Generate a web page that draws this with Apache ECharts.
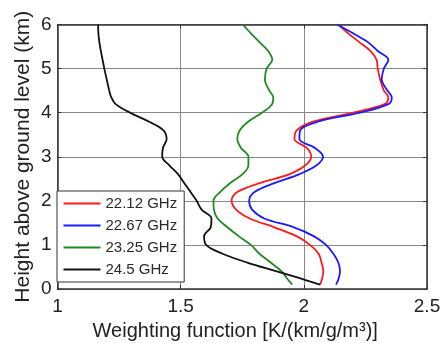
<!DOCTYPE html>
<html>
<head>
<meta charset="utf-8">
<script src="https://cdn.jsdelivr.net/npm/echarts@6/dist/echarts.min.js"></script>
<style>
html,body{margin:0;padding:0;background:#fff;}
#chart{width:443px;height:343px;}
</style>
</head>
<body>
<div id="chart"></div>
<script>
const heights = [0.1, 0.25, 0.4, 0.6, 0.8, 1.0, 1.2, 1.4, 1.6, 1.8, 2.0, 2.2, 2.4, 2.6, 2.8, 3.0, 3.2, 3.4, 3.6, 3.8, 4.0, 4.2, 4.35, 4.5, 4.75, 5.0, 5.2, 5.4, 5.6, 5.8, 6.0];
const w2212 = [2.066, 2.075, 2.079, 2.072, 2.06, 2.025, 1.97, 1.88, 1.78, 1.725, 1.707, 1.73, 1.82, 1.94, 2.005, 2.03, 2.012, 1.962, 1.971, 2.04, 2.2, 2.33, 2.343, 2.325, 2.31, 2.30, 2.295, 2.27, 2.225, 2.18, 2.14];
const w2267 = [2.131, 2.142, 2.147, 2.14, 2.12, 2.09, 2.04, 1.96, 1.84, 1.79, 1.778, 1.80, 1.88, 1.98, 2.05, 2.078, 2.045, 1.982, 1.985, 2.06, 2.228, 2.345, 2.357, 2.34, 2.316, 2.325, 2.343, 2.30, 2.26, 2.20, 2.135];
const w2325 = [1.953, 1.93, 1.91, 1.865, 1.82, 1.785, 1.735, 1.69, 1.65, 1.635, 1.633, 1.66, 1.70, 1.75, 1.775, 1.775, 1.745, 1.73, 1.74, 1.775, 1.83, 1.872, 1.876, 1.86, 1.842, 1.849, 1.872, 1.855, 1.82, 1.785, 1.752];
const w245 = [2.066, 1.98, 1.89, 1.77, 1.67, 1.603, 1.595, 1.622, 1.625, 1.585, 1.565, 1.54, 1.515, 1.49, 1.455, 1.425, 1.428, 1.443, 1.43, 1.37, 1.294, 1.235, 1.218, 1.21, 1.2, 1.19, 1.183, 1.176, 1.17, 1.166, 1.165];
const seriesNames = ['22.12 GHz', '22.67 GHz', '23.25 GHz', '24.5 GHz'];
const seriesColors = ['#ff1a1a', '#1a1aff', '#1f8a1f', '#111111'];
const seriesValues = [w2212, w2267, w2325, w245];
const xTicks = {min: 1, max: 2.5, interval: 0.5};
const yTicks = {min: 0, max: 6, interval: 1};

const font = 'Liberation Sans, Arial, sans-serif';
const chart = echarts.init(document.getElementById('chart'));
chart.setOption({
  animation: false,
  backgroundColor: '#fff',
  grid: {left: 57.5, right: 16, top: 24.5, bottom: 54, containLabel: false, outerBoundsMode: 'none'},
  legend: {
    orient: 'vertical',
    left: 57, top: 191,
    data: seriesNames,
    icon: 'rect',
    itemWidth: 37, itemHeight: 2,
    itemGap: 6,
    padding: [4.5, 7, 4.5, 6.5],
    backgroundColor: '#fff',
    borderColor: '#333', borderWidth: 1,
    textStyle: {fontFamily: font, fontSize: 15, color: '#2a2a2a', lineHeight: 16}
  },
  xAxis: [{
    type: 'value', min: xTicks.min, max: xTicks.max, interval: xTicks.interval,
    name: 'Weighting function [K/(km/g/m³)]',
    nameLocation: 'middle', nameGap: 32, nameMoveOverlap: false,
    nameTextStyle: {fontFamily: font, fontSize: 20, color: '#222', padding: [0, 14, 0, 0]},
    axisLine: {show: true, onZero: false, lineStyle: {color: '#333', width: 1.5}},
    axisTick: {show: true, inside: true, length: 4, lineStyle: {color: '#333'}},
    axisLabel: {fontFamily: font, fontSize: 19, color: '#222', margin: 8},
    splitLine: {show: true, lineStyle: {color: '#888', width: 1}}
  }, {
    type: 'value', position: 'top', min: xTicks.min, max: xTicks.max, interval: xTicks.interval,
    axisLine: {show: true, onZero: false, lineStyle: {color: '#333', width: 1.5}},
    axisTick: {show: true, inside: true, length: 4, lineStyle: {color: '#333'}},
    axisLabel: {show: false}, splitLine: {show: false}
  }],
  yAxis: [{
    type: 'value', min: yTicks.min, max: yTicks.max, interval: yTicks.interval,
    name: 'Height above ground level (km)',
    nameLocation: 'middle', nameGap: 24, nameMoveOverlap: false,
    nameTextStyle: {fontFamily: font, fontSize: 21, color: '#222'},
    axisLine: {show: true, onZero: false, lineStyle: {color: '#333', width: 1.5}},
    axisTick: {show: true, inside: true, length: 4, lineStyle: {color: '#333'}},
    axisLabel: {fontFamily: font, fontSize: 19, color: '#222', margin: 6},
    splitLine: {show: true, lineStyle: {color: '#888', width: 1}}
  }, {
    type: 'value', position: 'right', min: yTicks.min, max: yTicks.max, interval: yTicks.interval,
    axisLine: {show: true, onZero: false, lineStyle: {color: '#333', width: 1.5}},
    axisTick: {show: true, inside: true, length: 4, lineStyle: {color: '#333'}},
    axisLabel: {show: false}, splitLine: {show: false}
  }],
  series: seriesNames.map((name, i) => ({
    name: name,
    type: 'line',
    xAxisIndex: 0, yAxisIndex: 0,
    smooth: 0.35,
    symbol: 'none',
    color: seriesColors[i],
    lineStyle: {color: seriesColors[i], width: 1.8},
    data: heights.map((h, j) => [seriesValues[i][j], h])
  }))
});
</script>
</body>
</html>
